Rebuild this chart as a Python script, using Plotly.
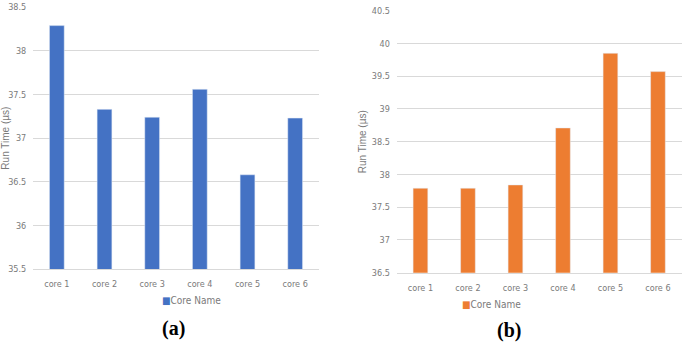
import plotly.graph_objects as go

categories = ["core 1", "core 2", "core 3", "core 4", "core 5", "core 6"]
run_time_a = [38.29, 37.33, 37.24, 37.56, 36.58, 37.23]
run_time_b = [37.79, 37.79, 37.84, 38.71, 39.85, 39.57]
series_name = "Core Name"
yticks_a = [35.5, 36, 36.5, 37, 37.5, 38, 38.5]
yticks_b = [36.5, 37, 37.5, 38, 38.5, 39, 39.5, 40, 40.5]

BLUE = "#4472C4"
ORANGE = "#ED7D31"
GRID = "#D9D9D9"
TXT = "#7a7a7a"
TICKFONT = dict(family="DejaVu Sans Condensed, Liberation Sans Narrow, Arial Narrow, Liberation Sans, sans-serif", size=9, color=TXT)

W, H = 685, 359
def px(x):
    return x / W
def py(y):
    return 1 - y / H

fig = go.Figure()
fig.add_trace(go.Bar(x=categories, y=run_time_a, name=series_name, marker=dict(color=BLUE),
                     width=0.31, xaxis="x", yaxis="y", showlegend=False))
fig.add_trace(go.Bar(x=categories, y=run_time_b, name=series_name, marker=dict(color=ORANGE),
                     width=0.31, xaxis="x2", yaxis="y2", showlegend=False))

common_x = dict(showgrid=False, showline=True, linecolor=GRID, linewidth=1, ticks="outside",
                ticklen=6, tickcolor="rgba(0,0,0,0)", tickfont=TICKFONT, zeroline=False,
                fixedrange=True, automargin=False)
common_y = dict(showgrid=True, gridcolor=GRID, gridwidth=1, showline=False, zeroline=False,
                ticks="outside", ticklen=4, tickcolor="rgba(0,0,0,0)", tickfont=TICKFONT,
                tickformat="~g", fixedrange=True, automargin=False)
ytitle_font = dict(family="Liberation Sans, Arial, sans-serif", size=10, color=TXT)

fig.update_layout(
    width=W, height=H, margin=dict(l=0, r=0, t=0, b=0),
    paper_bgcolor="white", plot_bgcolor="white",
    xaxis=dict(domain=[px(33), px(319)], anchor="y", **common_x),
    yaxis=dict(domain=[py(269), py(7.3)], anchor="x", range=[35.5, 38.5], tickvals=yticks_a,
               title=dict(text="Run Time (µs)", font=ytitle_font, standoff=5), **common_y),
    xaxis2=dict(domain=[px(396.7), px(681.7)], anchor="y2", **common_x),
    yaxis2=dict(domain=[py(272.7), py(10.7)], anchor="x2", range=[36.5, 40.5], tickvals=yticks_b,
                title=dict(text="Run Time (µs)", font=ytitle_font, standoff=3), **common_y),
)

legend_font = dict(family="DejaVu Sans Condensed, Liberation Sans Narrow, Liberation Sans, sans-serif", size=10, color=TXT)
fig.add_annotation(x=px(160), y=py(308), xref="paper", yref="paper", showarrow=False,
                   text=f'<span style="color:{BLUE}">■</span>{series_name}', font=legend_font)
fig.add_annotation(x=px(523), y=py(312), xref="paper", yref="paper", showarrow=False,
                   text=f'<span style="color:{ORANGE}">■</span>{series_name}', font=legend_font)

label_font = dict(family="Liberation Serif, Times New Roman, serif", size=20, color="black")
fig.add_annotation(x=px(160), y=py(342), xref="paper", yref="paper", showarrow=False,
                   text="<b>(a)</b>", font=label_font)
fig.add_annotation(x=px(523), y=py(344), xref="paper", yref="paper", showarrow=False,
                   text="<b>(b)</b>", font=label_font)

fig.write_html("out.html", config={"displayModeBar": False},
               post_script="document.body.style.margin='0px';")
